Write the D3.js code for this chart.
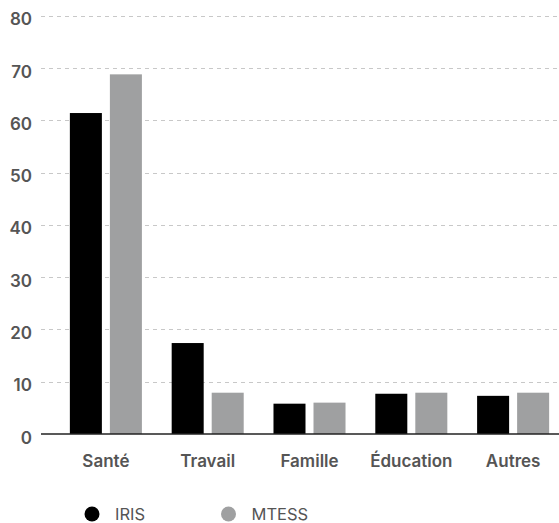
<!DOCTYPE html>
<html>
<head>
<meta charset="utf-8">
<script src="https://cdn.jsdelivr.net/npm/d3@7"></script>
<style>
  html, body { margin: 0; padding: 0; background: #fff; }
  svg { display: block; }
</style>
</head>
<body>
<svg id="chart" width="559" height="523"></svg>
<script>
const categories = ["Santé", "Travail", "Famille", "Éducation", "Autres"];
const seriesNames = ["IRIS", "MTESS"];
const irisValues = [61.4, 17.4, 5.8, 7.7, 7.3];
const mtessValues = [68.8, 7.9, 6.0, 7.9, 7.9];
const yTicks = [0, 10, 20, 30, 40, 50, 60, 70, 80];
const colors = ["#000000", "#9fa0a1"];

const data = categories.map((c, i) => ({ cat: c, values: [irisValues[i], mtessValues[i]] }));

const svg = d3.select("#chart");
const font = "Inter, 'Noto Sans', sans-serif";

const y = d3.scaleLinear().domain([0, 80]).range([434, 15.8]);
const x0 = d3.scaleBand().domain(categories).range([55, 564]).paddingInner(0.2925).paddingOuter(0.146);
const x1 = d3.scaleBand().domain(seriesNames).range([0, x0.bandwidth()]).paddingInner(0.2);

// gridlines
const grid = svg.append("g");
grid.selectAll("line").data(yTicks.filter(d => d > 0)).join("line")
  .attr("x1", 41).attr("x2", 559)
  .attr("y1", d => Math.round(y(d)) + 0.5).attr("y2", d => Math.round(y(d)) + 0.5)
  .attr("stroke", "#c8c8c8").attr("stroke-width", 1)
  .attr("stroke-dasharray", "4,4");

// y labels
const yAxis = d3.axisLeft(y).tickValues(yTicks).tickSize(0).tickPadding(0);
const ya = svg.append("g").attr("transform", "translate(32,0)").call(yAxis);
ya.select(".domain").remove();
ya.selectAll("text")
  .attr("font-family", font).attr("font-size", 17).attr("font-weight", 600)
  .attr("fill", "#555").attr("dy", 9);

// bars
const groups = svg.append("g").selectAll("g").data(data).join("g")
  .attr("transform", d => `translate(${x0(d.cat)},0)`);
groups.selectAll("rect").data(d => d.values.map((v, j) => ({ s: seriesNames[j], v, j })))
  .join("rect")
  .attr("x", d => x1(d.s)).attr("width", x1.bandwidth())
  .attr("y", d => y(d.v)).attr("height", d => y(0) - y(d.v))
  .attr("fill", d => colors[d.j]);

// baseline
svg.append("line").attr("x1", 41).attr("x2", 559)
  .attr("y1", y(0)).attr("y2", y(0))
  .attr("stroke", "#222").attr("stroke-width", 1.5);

// x labels
const xAxis = d3.axisBottom(x0).tickSize(0).tickPadding(0);
const xa = svg.append("g").attr("transform", `translate(0,${y(0)})`).call(xAxis);
xa.select(".domain").remove();
xa.selectAll("text")
  .attr("font-family", font).attr("font-size", 17).attr("font-weight", 600)
  .attr("fill", "#555").attr("dy", null).attr("y", 33);

// legend
const legX = d3.scaleOrdinal().domain(seriesNames).range([92, 228.5]);
const leg = svg.append("g").selectAll("g").data(seriesNames).join("g")
  .attr("transform", d => `translate(${legX(d)},514)`);
leg.append("circle").attr("r", 7.5).attr("fill", (d, i) => colors[i]);
leg.append("text").attr("x", 23).attr("y", 5.5)
  .attr("font-family", font).attr("font-size", 16.5).attr("font-weight", 400)
  .attr("fill", "#555").text(d => d);
</script>
</body>
</html>
